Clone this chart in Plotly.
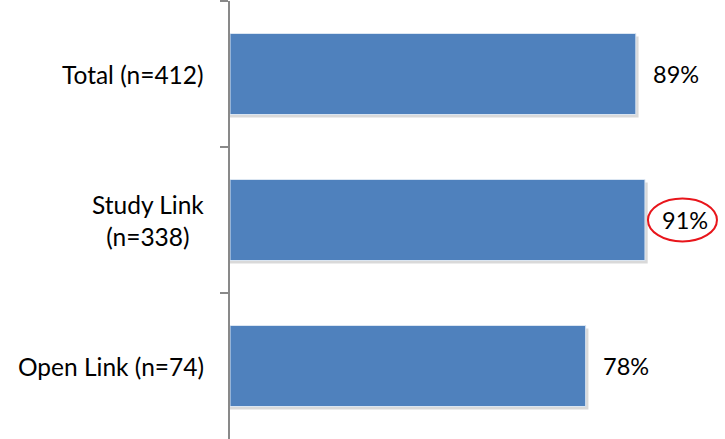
import plotly.graph_objects as go

categories = ["Total (n=412)", "Study Link<br>(n=338)", "Open Link (n=74)"]
values = [0.89, 0.91, 0.78]
value_labels = ["89%", "91%", "78%"]
highlight = "Study Link<br>(n=338)"

FONT = "Lato"
BAR = "#4F81BD"

fig = go.Figure()
# soft shadow behind bars
fig.add_trace(go.Bar(
    y=categories, x=[v + 0.006 for v in values], orientation="h",
    width=0.555, offset=-0.2575,
    marker=dict(color="rgba(0,0,0,0.15)", line=dict(width=0)),
    hoverinfo="skip", showlegend=False))
fig.add_trace(go.Bar(
    y=categories, x=values, orientation="h", width=0.555, offset=-0.2775,
    marker=dict(color=BAR, line=dict(color="#DCE6F2", width=1)),
    showlegend=False))

for c, v, t in zip(categories, values, value_labels):
    fig.add_annotation(x=v, y=c, xref="x", yref="y", text=t, showarrow=False,
                       xanchor="left", yanchor="middle", xshift=15,
                       font=dict(family=FONT, size=23.5, color="#000000"))
    fig.add_annotation(x=0, y=c, xref="paper", yref="y", text=c, showarrow=False,
                       xanchor="right", yanchor="middle", xshift=-24, align="center",
                       font=dict(family=FONT, size=24.5, color="#000000"))

hv = values[categories.index(highlight)]
fig.add_shape(type="circle", xref="x", yref="y", xsizemode="pixel", ysizemode="pixel",
              xanchor=hv, yanchor=highlight, x0=3, x1=72, y0=-21.5, y1=21.5,
              line=dict(color="#E8151B", width=2))

fig.update_layout(
    width=725, height=439,
    margin=dict(l=230, r=0, t=1, b=0),
    paper_bgcolor="white", plot_bgcolor="white",
    barmode="overlay",
    xaxis=dict(range=[0, 495 / 456], visible=False, showgrid=False, zeroline=False),
    yaxis=dict(type="category", categoryarray=categories, autorange="reversed",
               showticklabels=False, showline=True, linecolor="#898989", linewidth=1.5,
               ticks="outside", ticklen=8, tickcolor="#898989", tickwidth=1.5,
               tickson="boundaries", showgrid=False, zeroline=False),
    font=dict(family=FONT),
)

fig.write_html("out.html", config={"displayModeBar": False},
               post_script="document.body.style.margin='0';")
